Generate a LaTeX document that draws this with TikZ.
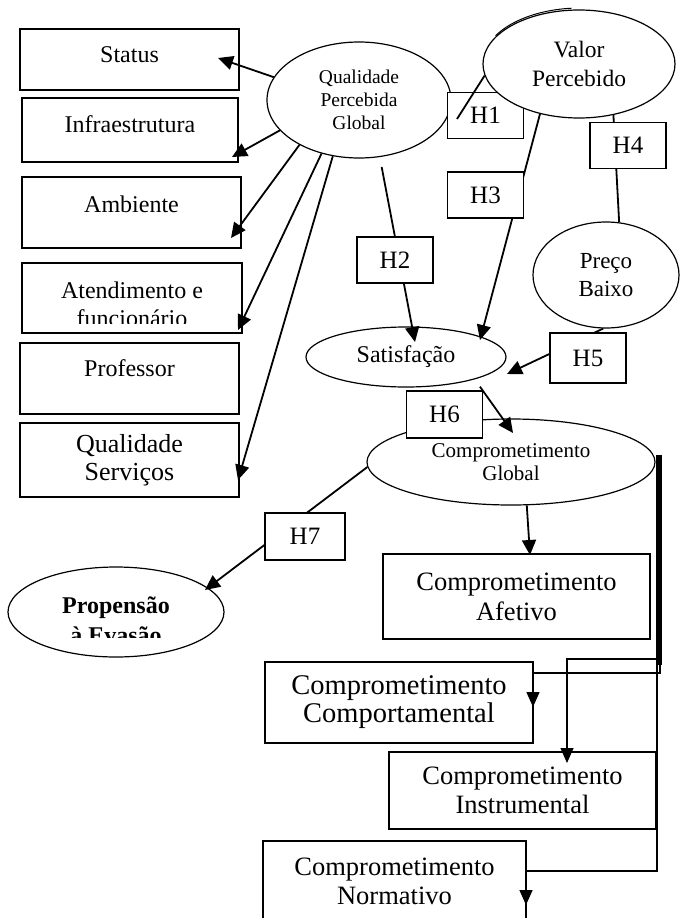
\documentclass[tikz,border=0pt]{standalone}
\usepackage{fontspec}
\setmainfont{Liberation Serif}
\usetikzlibrary{arrows.meta,shapes.geometric}
\newcommand{\fsz}[2]{\fontsize{#1}{#2}\selectfont}
\tikzset{
  kbox/.style={draw, line width=1.2pt, align=center, inner sep=0pt, font=\fsz{24}{28}},
  koval/.style={draw, fill=white, ellipse, line width=1.2pt, align=center, inner sep=0pt, font=\fsz{24}{28}},
  khyp/.style={draw, fill=white, line width=1.2pt, inner sep=0pt, minimum width=76pt, minimum height=46pt, font=\fsz{25}{28}},
  ktext/.style={align=center, inner sep=0pt, font=\fsz{24}{28}},
  flow/.style={-{Triangle[length=15pt,width=14pt]}, line width=1.8pt},
  link/.style={line width=1.8pt},
  elbow/.style={-{Triangle[length=15pt,width=13pt]}, line width=1.4pt},
}
\begin{document}
\begin{tikzpicture}[x=1pt, y=-1pt]
    \useasboundingbox (0,0) rectangle (680,918);
    \clip (0,0) rectangle (680,918);
    \node[kbox, minimum width=219pt, minimum height=61pt, text depth=10pt] (status) at (129.5,59.5) {Status};
    \node[kbox, minimum width=216pt, minimum height=64pt, text depth=12pt] (infra) at (130,130) {Infraestrutura};
    \node[kbox, minimum width=219pt, minimum height=71pt, text depth=16pt] (amb) at (131.5,212.5) {Ambiente};
    \node[kbox, minimum width=220pt, minimum height=70pt] (atend) at (132,298) {};
    \begin{scope}
      \clip (24,264) rectangle (240,323);
      \node[ktext] (atendtxt) at (132,304) {Atendimento e\\funcionário};
    \end{scope}
    \node[kbox, minimum width=219pt, minimum height=71pt, text depth=20pt] (prof) at (129.5,378.5) {Professor};
    \node[kbox, minimum width=219pt, minimum height=74pt, font=\fsz{26}{28}] (qserv) at (129.5,460) {Qualidade\\Serviços};
    \node[koval, minimum width=184pt, minimum height=116pt, font=\fsz{19.5}{23}] (qpg) at (359,100) {Qualidade\\Percebida\\Global};
    \node[khyp] (h1) at (485.5,115.5) {H1};
    \node[koval, minimum width=192pt, minimum height=108pt, font=\fsz{23.5}{29}] (val) at (579,64) {Valor\\Percebido};
    \node[koval, minimum width=146pt, minimum height=106pt, font=\fsz{23}{28}] (preco) at (606,275) {Preço\\Baixo};
    \node[koval, minimum width=200pt, minimum height=60pt] (satis) at (406,357) {Satisfação};
    \node[koval, minimum width=288pt, minimum height=86pt, font=\fsz{21}{23}] (cg) at (511,462) {Comprometimento\\Global};
    \node[koval, minimum width=216pt, minimum height=90pt] (prop) at (116,612) {};
    \begin{scope}
      \clip (10,570) rectangle (222,637);
      \node[ktext, font=\bfseries\fsz{24}{30}] (proptxt) at (116,620) {Propensão\\à Evasão};
    \end{scope}
    \node[kbox, minimum width=267pt, minimum height=85pt, font=\fsz{26.5}{30}] (afet) at (516.5,596.5) {Comprometimento\\Afetivo};
    \node[kbox, minimum width=268pt, minimum height=81pt, font=\fsz{28.5}{28}] (comport) at (399,702.5) {Comprometimento\\Comportamental};
    \node[kbox, minimum width=267pt, minimum height=77pt, font=\fsz{26.5}{29}] (instr) at (522.5,790.5) {Comprometimento\\Instrumental};
    \node[kbox, minimum width=263pt, minimum height=80pt, font=\fsz{26.5}{29}] (norm) at (394.5,881) {Comprometimento\\Normativo};
    \coordinate (tStatus) at (218,58);
    \coordinate (tInfra) at (232,157);
    \coordinate (tAmb) at (231,238);
    \coordinate (tAtend) at (238,330);
    \coordinate (tQS) at (238,480);
    \coordinate (tH2) at (415,342);
    \coordinate (tH3) at (480,340);
    \coordinate (tH5) at (507,374);
    \coordinate (tH6) at (513,433);
    \coordinate (tH7) at (205,590);
    \coordinate (tAfet) at (530,555);
    \coordinate (tComp) at (533,707);
    \coordinate (tInstr) at (567,763);
    \coordinate (tNorm) at (526,905);
    \coordinate (cgout) at (660,455);
    \coordinate (h1from) at (457,119);
    \draw[flow] (qpg.165) -- (tStatus);
    \draw[flow] (qpg.201) -- (tInfra);
    \draw[flow] (qpg.217) -- (tAmb);
    \draw[flow] (qpg.235) -- (tAtend);
    \draw[flow] (qpg.245) -- (tQS);
    \draw[flow, shorten <=10pt] (qpg.290) -- (tH2);
    \draw[flow] (val.232) -- (tH3);
    \draw[link] (val.304) -- (preco.76);
    \draw[flow] (preco.267) -- (tH5);
    \draw[flow] (cg.182) -- (tH7);
    \draw[flow] (cg.290) -- (tAfet);
    \node[khyp] (h3) at (485.5,195) {H3};
    \node[khyp] (h4) at (628,145.5) {H4};
    \node[khyp] (h2) at (395,260) {H2};
    \node[khyp, minimum height=50pt] (h5) at (588,358) {H5};
    \node[khyp, minimum height=47pt] (h6) at (444.5,414.5) {H6};
    \node[khyp, minimum width=80pt, minimum height=47pt] (h7) at (305,536.5) {H7};
    \draw[flow, shorten <=9pt] (satis.342) -- (tH6);
    \draw[link] (h1from) -- (val.187);
    \draw[line width=1pt] plot[domain=95:150, samples=30] ({580+97.5*cos(\x)}, {63.5-55.5*sin(\x)});
    \draw[line width=4pt] (cgout) -- ++(0,210);
    \draw[elbow] (cgout) -- ++(0,204) -| (tInstr);
    \draw[elbow] (cgout) -- ++(0,218) -| (tComp);
    \draw[elbow] ([xshift=-3pt]cgout) -- ++(0,416) -| (tNorm);
\end{tikzpicture}
\end{document}
